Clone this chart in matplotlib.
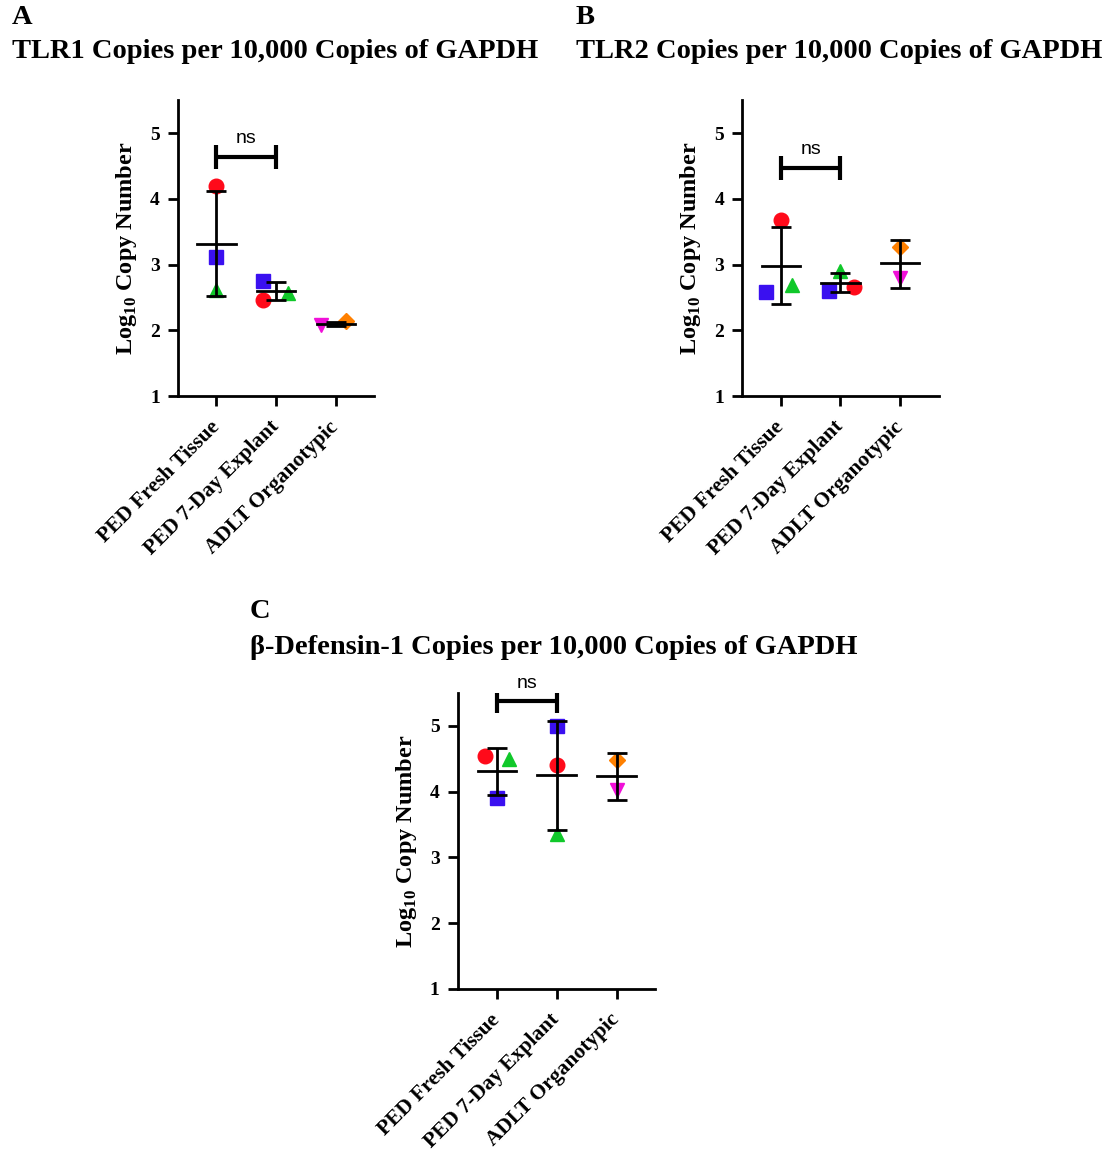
import numpy as np
import matplotlib.pyplot as plt

plt.rcParams['mathtext.fontset'] = 'custom'
plt.rcParams['mathtext.rm'] = 'Liberation Serif'
plt.rcParams['mathtext.bf'] = 'Liberation Serif:bold'

groups = ['PED Fresh Tissue', 'PED 7-Day Explant', 'ADLT Organotypic']

# values per group (marker order: red circle, blue square, green triangle / magenta, orange)
tlr1_fresh = [4.20, 3.12, 2.62]
tlr1_explant = [2.47, 2.75, 2.57]
tlr1_adult = [2.08, 2.14]
tlr1_mean = [3.32, 2.60, 2.10]
tlr1_err = [(2.53, 4.12), (2.46, 2.73), (2.07, 2.13)]
tlr1_ns = 4.64

tlr2_fresh = [3.68, 2.58, 2.69]
tlr2_explant = [2.66, 2.60, 2.90]
tlr2_adult = [2.80, 3.27]
tlr2_mean = [2.98, 2.72, 3.02]
tlr2_err = [(2.40, 3.58), (2.58, 2.87), (2.65, 3.37)]
tlr2_ns = 4.47

def1_fresh = [4.54, 3.90, 4.49]
def1_explant = [4.40, 5.00, 3.36]
def1_adult = [4.02, 4.48]
def1_mean = [4.32, 4.25, 4.23]
def1_err = [(3.95, 4.67), (3.41, 5.08), (3.87, 4.58)]
def1_ns = 5.37

# horizontal jitter of the points (category units)
jit_a = [[0, 0, 0], [-0.22, -0.22, 0.2], [-0.24, 0.17]]
jit_b = [[0, -0.25, 0.18], [0.22, -0.2, 0.0], [0, 0]]
jit_c = [[-0.2, 0, 0.2], [0, 0, 0], [0, 0]]

cols3 = ['#ff0a1a', '#3a10f0', '#10c82a']
mk3 = ['o', 's', '^']
cols2 = ['#f010d8', '#ff8000']
mk2 = ['v', 'D']

serif = 'Liberation Serif'
sans = 'Liberation Sans'

fig = plt.figure(figsize=(11.11, 11.52), dpi=100)


def panel(rect, fresh, explant, adult, mean, err, ns, jit):
    ax = fig.add_axes(rect)
    vals = [fresh, explant, adult]
    for i, v in enumerate(vals):
        cs = cols3 if len(v) == 3 else cols2
        ms = mk3 if len(v) == 3 else mk2
        for k in range(len(v)):
            ax.plot(i + jit[i][k], v[k], marker=ms[k], color=cs[k],
                    markersize=10.5 if ms[k] != 'D' else 8, linestyle='none', zorder=2)
    for i in range(3):
        lo, hi = err[i]
        ax.errorbar(i, mean[i], yerr=[[mean[i] - lo], [hi - mean[i]]],
                    fmt='none', ecolor='black', elinewidth=2, capsize=7,
                    capthick=2, zorder=3)
        ax.plot([i - 0.32, i + 0.32], [mean[i], mean[i]], color='black', lw=2, zorder=3)
    # ns bracket
    ax.plot([0, 1], [ns, ns], color='black', lw=3, solid_capstyle='butt')
    ax.plot([0, 0], [ns - 0.18, ns + 0.18], color='black', lw=3, solid_capstyle='butt')
    ax.plot([1, 1], [ns - 0.18, ns + 0.18], color='black', lw=3, solid_capstyle='butt')
    ax.text(0.5, ns + 0.15, 'ns', ha='center', va='bottom', fontsize=14, family=sans)

    ax.set_xlim(-0.65, 2.65)
    ax.set_ylim(1, 5.5)
    ax.set_yticks([1, 2, 3, 4, 5])
    ax.set_xticks(range(3))
    ax.set_xticklabels(groups, rotation=45, ha='right', va='center', rotation_mode='anchor',
                       family=serif, fontweight='bold', fontsize=15.5)
    for t in ax.get_yticklabels():
        t.set_family(serif)
        t.set_fontweight('bold')
        t.set_fontsize(14)
    ax.spines['top'].set_visible(False)
    ax.spines['right'].set_visible(False)
    ax.spines['left'].set_linewidth(2)
    ax.spines['bottom'].set_linewidth(2)
    ax.tick_params(width=2, length=7, direction='out')
    ax.tick_params(axis='x', pad=13)
    ax.tick_params(axis='y', pad=6)
    ax.set_ylabel(r'Log$_{\mathbf{10}}$ Copy Number', family=serif,
                  fontweight='bold', fontsize=17.5, labelpad=8)
    return ax


panel([0.160, 0.656, 0.177, 0.257], tlr1_fresh, tlr1_explant, tlr1_adult,
      tlr1_mean, tlr1_err, tlr1_ns, jit_a)
panel([0.668, 0.656, 0.177, 0.257], tlr2_fresh, tlr2_explant, tlr2_adult,
      tlr2_mean, tlr2_err, tlr2_ns, jit_b)
panel([0.412, 0.1415, 0.178, 0.257], def1_fresh, def1_explant, def1_adult,
      def1_mean, def1_err, def1_ns, jit_c)

hd = dict(family=serif, fontweight='bold', fontsize=20.5, va='center')
fig.text(12 / 1111, 1 - 18 / 1152, 'A', **hd)
fig.text(12 / 1111, 1 - 52 / 1152, 'TLR1 Copies per 10,000 Copies of GAPDH', **hd)
fig.text(576 / 1111, 1 - 18 / 1152, 'B', **hd)
fig.text(576 / 1111, 1 - 52 / 1152, 'TLR2 Copies per 10,000 Copies of GAPDH', **hd)
fig.text(250 / 1111, 1 - 612 / 1152, 'C', **hd)
fig.text(250 / 1111, 1 - 648 / 1152, 'β-Defensin-1 Copies per 10,000 Copies of GAPDH', **hd)

plt.savefig('out.png', dpi=100)
